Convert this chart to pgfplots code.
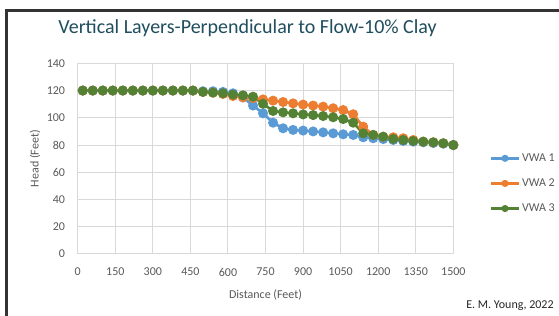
\documentclass[border=0pt]{standalone}
\usepackage{pgfplots}
\pgfplotsset{compat=1.18}
\usepackage{fontspec}
\setmainfont{Carlito}
\definecolor{vblue}{HTML}{5B9BD5}
\definecolor{vorange}{HTML}{ED7D31}
\definecolor{vgreen}{HTML}{548235}
\definecolor{titlec}{HTML}{1F4E5F}
\definecolor{txtgray}{HTML}{595959}
\definecolor{gridgray}{HTML}{D9D9D9}
\begin{document}
\begin{tikzpicture}
\useasboundingbox (0,0) rectangle (419.25pt,237pt);
\fill[white] (0,0) rectangle (419.25pt,237pt);
\draw[line width=2.2pt, black!80] (5pt,-20pt) -- (5pt,229.3pt) -- (440pt,229.3pt);
\begin{axis}[
  at={(58.3pt,46.5pt)}, anchor=south west,
  scale only axis, width=281.7pt, height=143pt,
  xmin=0, xmax=1500, ymin=0, ymax=140,
  xtick={0,150,300,450,600,750,900,1050,1200,1350,1500}, ytick={0,20,40,60,80,100,120,140},
  grid=major, major grid style={gridgray, line width=0.75pt},
  axis line style={draw=none},
  major tick length=0pt,
  /pgf/number format/assume math mode=true,
  /pgf/number format/1000 sep={},
  tick label style={font=\fontsize{9}{10}\selectfont, text=txtgray},
  yticklabel style={xshift=-6pt},
  xticklabel style={yshift=-7pt},
  xlabel={Distance (Feet)}, ylabel={Head (Feet)},
  label style={font=\fontsize{9}{10}\selectfont, text=txtgray},
  xlabel style={at={(axis description cs:0.5,0)}, anchor=center, yshift=-30.75pt},
  ylabel style={at={(axis description cs:0,0.5)}, anchor=center, rotate=0, yshift=32pt},
  title={Vertical Layers-Perpendicular to Flow-10\% Clay},
  title style={font=\fontsize{15}{17}\selectfont, text=titlec, at={(axis description cs:0,1)}, anchor=center, xshift=127.4pt, yshift=20pt},
  legend style={draw=none, fill=none, at={(axis description cs:1.095,0.370)}, anchor=west, inner sep=0pt, row sep=7.5pt,
    font=\fontsize{9}{10}\selectfont, text=txtgray, nodes={inner xsep=1pt}},
  legend cell align=left,
  legend image code/.code={\draw[mark repeat=2,mark phase=2,mark options={scale=0.6}] plot coordinates {(0cm,0cm) (0.38cm,0cm) (0.76cm,0cm)};},
  every axis plot/.append style={line width=2pt, mark=*, mark size=2.7pt},
]
\addplot[vblue, mark options={fill=vblue, draw=vblue}] coordinates {
(20,120)(60,120)(100,120)(140,120)(180,120)(220,120)(260,120)(300,120)(340,120)(380,120)(420,120)(460,120)
(500,119.5)(540,119.5)(580,119)(620,118)(660,115)(700,109)(740,103.3)(780,96.4)(820,92.3)(860,91.1)(900,90.6)
(940,90)(980,89.3)(1020,88.6)(1060,87.9)(1100,87.4)(1140,85.7)(1180,85)(1220,84.4)(1260,83.7)(1300,83)
(1340,82.5)(1380,82)(1420,81.5)(1460,81)(1500,80)};
\addlegendentry{VWA 1}
\addplot[vorange, mark options={fill=vorange, draw=vorange}] coordinates {
(20,120)(60,120)(100,120)(140,120)(180,120)(220,120)(260,120)(300,120)(340,120)(380,120)(420,120)(460,120)
(500,119)(540,118.5)(580,117.5)(620,116)(660,115)(700,114.5)(740,113.5)(780,112.6)(820,111.6)(860,110.6)(900,109.7)
(940,109)(980,108.2)(1020,107)(1060,105.7)(1100,102.6)(1140,93.5)(1180,87.4)(1220,86.1)(1260,85.7)(1300,85)
(1340,83.7)(1380,82.5)(1420,82)(1460,81.3)(1500,80)};
\addlegendentry{VWA 2}
\addplot[vgreen, mark options={fill=vgreen, draw=vgreen}] coordinates {
(20,120)(60,120)(100,120)(140,120)(180,120)(220,120)(260,120)(300,120)(340,120)(380,120)(420,120)(460,120)
(500,119)(540,118.5)(580,118)(620,117)(660,116.5)(700,115.5)(740,110.3)(780,105)(820,104)(860,103.3)(900,102.5)
(940,102)(980,101.3)(1020,100.4)(1060,99.1)(1100,96.4)(1140,88.6)(1180,87.4)(1220,86.1)(1260,84.5)(1300,83.7)
(1340,83)(1380,82.5)(1420,82)(1460,81.3)(1500,80)};
\addlegendentry{VWA 3}
\end{axis}
\node[font=\fontsize{9}{10}\selectfont, text=black!85] at (382.5pt,7.5pt) {E. M. Young, 2022};
\end{tikzpicture}
\end{document}
